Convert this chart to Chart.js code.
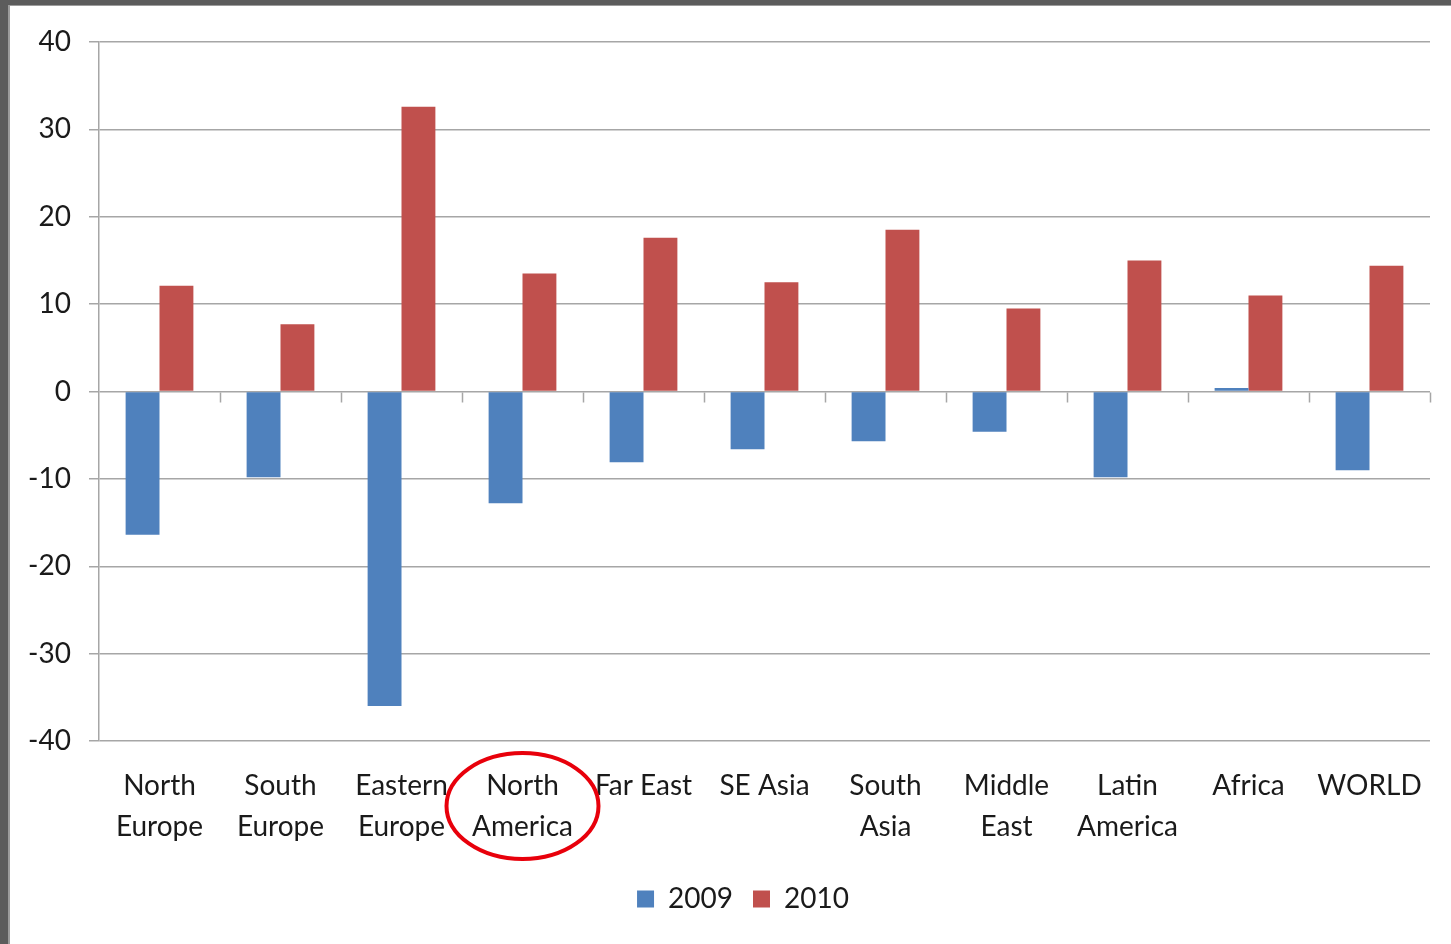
<!DOCTYPE html>
<html>
<head>
<meta charset="utf-8">
<script src="https://cdn.jsdelivr.net/npm/chart.js@4.4.1/dist/chart.umd.min.js"></script>
<style>
  body { margin: 0; background: #fff; }
  canvas { display: block; }
</style>
</head>
<body>
<canvas id="chart" width="1451" height="944"></canvas>
<script>
const regions = [
    ["North", "Europe"], ["South", "Europe"], ["Eastern", "Europe"], ["North", "America"],
    "Far East", "SE Asia", ["South", "Asia"], ["Middle", "East"], ["Latin", "America"],
    "Africa", "WORLD"
];
const growth2009 = [-16.4, -9.8, -36.0, -12.8, -8.1, -6.6, -5.7, -4.6, -9.8, 0.4, -9.0];
const growth2010 = [12.1, 7.7, 32.6, 13.5, 17.6, 12.5, 18.5, 9.5, 15.0, 11.0, 14.4];
const yTicks = [-40, -30, -20, -10, 0, 10, 20, 30, 40];

const fontFamily = "Lato, 'Open Sans', sans-serif";
const gridColor = "#a6a6a6";

// frame, zero-line tick marks and the red circle around North America
const extras = {
    id: "extras",
    afterLayout: function (chart) {
        // legend in the original sits a little right of the canvas centre
        chart.legend.left += 28;
        chart.legend.right += 28;
    },
    beforeDraw: function (chart) {
        const c = chart.ctx;
        c.save();
        c.fillStyle = "#fff";
        c.fillRect(0, 0, chart.width, chart.height);
        c.restore();
    },
    afterDraw: function (chart) {
        const c = chart.ctx;
        const x = chart.scales.x;
        const y = chart.scales.y;
        const area = chart.chartArea;
        const zero = Math.round(y.getPixelForValue(0)) + 0.5;
        const half = (x.getPixelForValue(1) - x.getPixelForValue(0)) / 2;
        c.save();
        c.strokeStyle = gridColor;
        c.lineWidth = 1.5;
        for (let i = 1; i <= regions.length; i++) {
            const px = Math.round(x.getPixelForValue(i) - half) + 0.5;
            c.beginPath();
            c.moveTo(px, zero);
            c.lineTo(px, zero + 10);
            c.stroke();
        }
        // annotation ellipse
        c.strokeStyle = "#e8000b";
        c.lineWidth = 4;
        c.beginPath();
        c.ellipse(x.getPixelForValue(3), area.bottom + 65, 76, 53, 0, 0, Math.PI * 2);
        c.stroke();
        // screenshot frame
        c.fillStyle = "#5c5c5c";
        c.fillRect(0, 0, 8, chart.height);
        c.fillRect(0, 0, chart.width, 5);
        c.fillStyle = "#9c9c9c";
        c.fillRect(8, 5, 2, chart.height);
        c.fillRect(8, 5, chart.width, 1);
        c.restore();
    }
};

new Chart(document.getElementById("chart"), {
    type: "bar",
    data: {
        labels: regions,
        datasets: [
            {
                label: "2009",
                data: growth2009,
                backgroundColor: "#4f81bd",
                borderWidth: 0,
                categoryPercentage: 0.56,
                barPercentage: 1.0
            },
            {
                label: "2010",
                data: growth2010,
                backgroundColor: "#c0504d",
                borderWidth: 0,
                categoryPercentage: 0.56,
                barPercentage: 1.0
            }
        ]
    },
    options: {
        responsive: false,
        animation: false,
        layout: { padding: { left: 0, right: 21, top: 42, bottom: 21 } },
        plugins: {
            legend: {
                position: "bottom",
                labels: {
                    boxWidth: 17,
                    boxHeight: 17,
                    padding: 20,
                    color: "#1a1a1a",
                    font: { family: fontFamily, size: 28 }
                }
            },
            tooltip: { enabled: false }
        },
        scales: {
            x: {
                grid: { display: false, drawTicks: false },
                border: { display: false },
                ticks: {
                    color: "#1a1a1a",
                    padding: 25,
                    maxRotation: 0,
                    autoSkip: false,
                    font: { family: fontFamily, size: 28, lineHeight: 1.45 }
                },
                afterFit: function (scale) { scale.height = 124; }
            },
            y: {
                min: -40,
                max: 40,
                afterBuildTicks: function (scale) {
                    scale.ticks = yTicks.map(function (v) { return { value: v }; });
                },
                grid: { color: gridColor, lineWidth: 1.5, tickLength: 10 },
                border: { display: true, color: gridColor, width: 1.5 },
                ticks: {
                    color: "#1a1a1a",
                    padding: 18,
                    font: { family: fontFamily, size: 28 }
                },
                afterFit: function (scale) { scale.width = 99; }
            }
        }
    },
    plugins: [extras]
});
</script>
</body>
</html>
